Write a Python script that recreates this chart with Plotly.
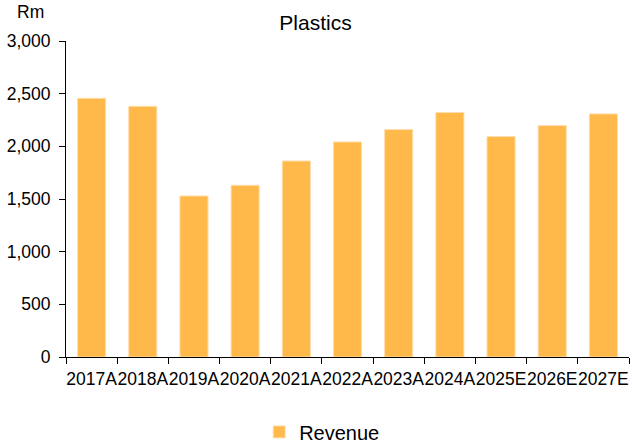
import plotly.graph_objects as go

categories = ["2017A", "2018A", "2019A", "2020A", "2021A", "2022A",
              "2023A", "2024A", "2025E", "2026E", "2027E"]
revenue = [2456, 2380, 1529, 1630, 1861, 2042, 2159, 2321, 2093, 2197, 2308]
y_ticks = [0, 500, 1000, 1500, 2000, 2500, 3000]
y_tick_labels = ["0", "500", "1,000", "1,500", "2,000", "2,500", "3,000"]

font_family = "Liberation Sans, Arial, sans-serif"

fig = go.Figure()
fig.add_trace(go.Bar(
    x=categories, y=revenue, name="Revenue",
    marker=dict(color="#FFB84A", line=dict(color="#FFDFAE", width=1)),
))

fig.update_layout(
    width=631, height=446,
    margin=dict(l=66, r=2, t=41, b=89, autoexpand=False),
    paper_bgcolor="white", plot_bgcolor="white",
    font=dict(family=font_family, size=17.5, color="black"),
    bargap=0.45,
    showlegend=True,
    legend=dict(orientation="h", x=0.455, xanchor="center", y=-0.237, yanchor="middle",
                font=dict(size=20), itemwidth=30),
    title=dict(text="Plastics", x=0.5, xanchor="center", y=0.95, yanchor="middle",
               font=dict(size=21)),
    annotations=[dict(text="Rm", xref="paper", yref="paper", x=-0.035, y=1.054,
                      xanchor="right", yanchor="bottom", showarrow=False,
                      font=dict(size=17.5))],
)
fig.update_xaxes(showline=True, linecolor="black", linewidth=1,
                 ticks="outside", ticklen=6, tickcolor="black",
                 tickson="boundaries", showgrid=False, tickangle=0,
                 ticklabelstandoff=6,
                 tickfont=dict(size=17.5))
fig.update_yaxes(range=[0, 3000], tickvals=y_ticks, ticktext=y_tick_labels,
                 showline=True, linecolor="black", linewidth=1,
                 ticks="outside", ticklen=6, tickcolor="black",
                 ticklabelstandoff=5,
                 showgrid=False, zeroline=False, tickfont=dict(size=17.5))

fig.write_html("out.html")
